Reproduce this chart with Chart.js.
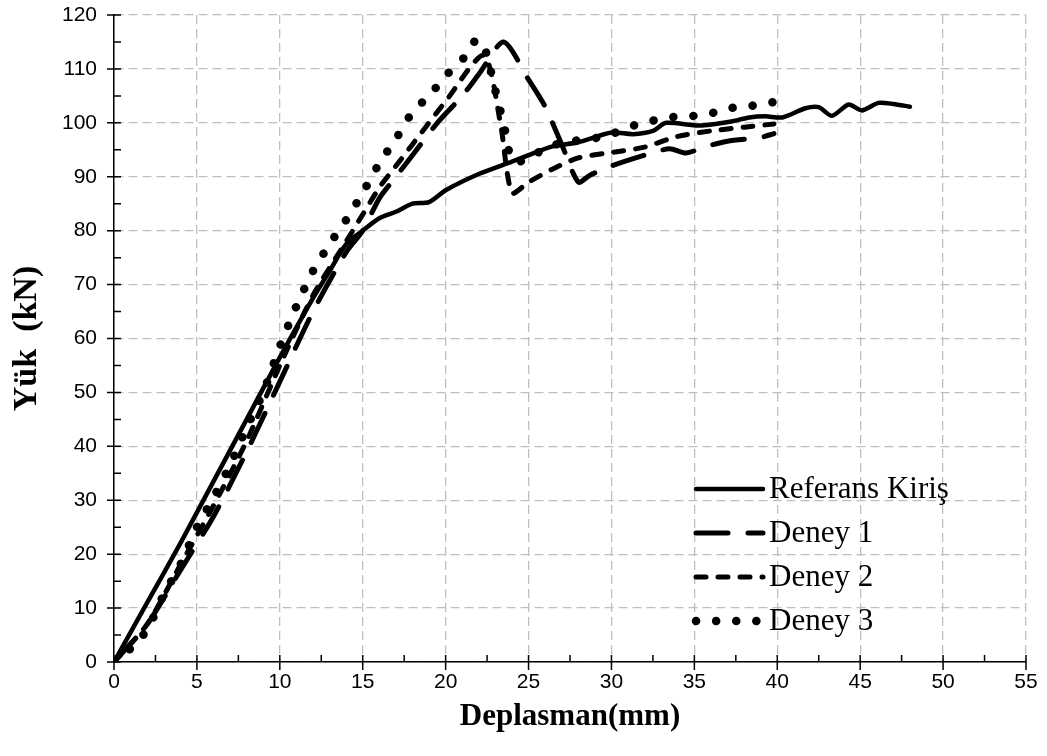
<!DOCTYPE html>
<html>
<head>
<meta charset="utf-8">
<script src="https://cdn.jsdelivr.net/npm/chart.js@4.4.1/dist/chart.umd.min.js"></script>
<style>
html,body{margin:0;padding:0;background:#fff;}
#wrap{width:1047px;height:756px;position:relative;}
</style>
</head>
<body>
<div id="wrap"><canvas id="c" width="1047" height="756"></canvas></div>
<script>
// ---- data ----
const xTickLabels = ['0','5','10','15','20','25','30','35','40','45','50','55'];
const yTickLabels = ['0','10','20','30','40','50','60','70','80','90','100','110','120'];
const seriesNames = ['Referans Kiriş', 'Deney 1', 'Deney 2', 'Deney 3'];

const refX = [0,2,4,6,8,10,12,13,14,15,16,17,18,19,20,22,24,25,26.4,28,30,31.3,32.5,33.3,35.3,37.3,38.3,39.3,40.3,41.7,42.5,43.3,44.3,45.1,46.1,47,48];
const refY = [0,11,22,33.5,45,56.5,67.5,72.5,77.5,80,82.3,83.5,85,85.3,87.5,90.5,92.8,94,95.6,96.4,98.2,97.9,98.5,100,99.5,100.3,101,101.2,101,102.7,102.9,101.3,103.4,102.3,103.7,103.5,103];

const d1X = [0,2,4,6,8,10,12,14,15,16,17,18,19.5,21,22,23.5,25,26,27,28,28.7,30,32,33.5,34.5,35.7,37,39,39.8];
const d1Y = [0,7,17,27,39,52,65,76,80,86,90,94,100,105,109,115,108,103,96,89,90.3,92,94,95.2,94.4,95.6,96.6,97.3,98];

const d2X = [0,2,4,6,8,10,12,14,15,16,17,18,20,22.3,23.3,24,25,26.5,28,30,32,34,36,38,39.8];
const d2Y = [0,7,18,29,41,55,68,78,83,88,92,96,104,112.5,100,87,89,91.5,93.5,94.5,95.5,97.5,98.5,99.2,99.8];

const d3X = [0,1,2,3,4,5,6,7,8,9,10,11,12,13,14,15,16,17,18,19,20,21.2,21.9,22.5,22.8,23.1,23.4,23.7,24,25,26,27.3,28.5,29.7,30.9,32.1,33.4,34.6,35.8,37.1,38.3,39.1,39.8];
const d3Y = [0,2.5,6,12.5,18,25,30.5,36.5,43.5,50,58.5,66,72.5,77.5,82,87,92.5,97,102,105,108.7,112.4,115.5,112.6,108.5,104.7,101,97,93,93.2,95.4,96.4,97,97.5,99.1,100.1,101,101.2,101.6,102.7,103,103.8,103.8];

const xTitle = 'Deplasman(mm)';
const yTitle = 'Yük  (kN)';

function pts(xs, ys){ return xs.map((x,i)=>({x:x, y:ys[i]})); }

const styles = [
  {borderWidth:4.5, borderDash:[], borderCapStyle:'round'},
  {borderWidth:5, borderDash:[32,20], borderCapStyle:'round'},
  {borderWidth:5, borderDash:[10,12], borderCapStyle:'round'},
  {borderWidth:8.5, borderDash:[0.1,20], borderCapStyle:'round'}
];
const allX = [refX,d1X,d2X,d3X], allY = [refY,d1Y,d2Y,d3Y];

const datasets = seriesNames.map((n,i)=>Object.assign({
  label:n, data:pts(allX[i],allY[i]), borderColor:'#000', backgroundColor:'#000',
  pointRadius:0, fill:false, tension:0.25, borderJoinStyle:'round'
}, styles[i]));

const X0=0, X1=55, Y0=0, Y1=120;

const tickPlugin = {
  id:'tickmarks',
  afterDraw(chart){
    const ctx=chart.ctx, xs=chart.scales.x, ys=chart.scales.y;
    const ax = xs.getPixelForValue(0), ay = ys.getPixelForValue(0);
    ctx.save();
    ctx.strokeStyle='#000'; ctx.lineWidth=1.5;
    ctx.beginPath();
    for(let v=X0; v<=X1; v+=2.5){
      const px=xs.getPixelForValue(v);
      if(Math.round(v/5)*5===v){ ctx.moveTo(px, ay-7); ctx.lineTo(px, ay+8); }
      else { ctx.moveTo(px, ay-7); ctx.lineTo(px, ay); }
    }
    for(let v=Y0; v<=Y1; v+=5){
      const py=ys.getPixelForValue(v);
      if(v%10===0){ ctx.moveTo(ax-7, py); ctx.lineTo(ax+7, py); }
      else { ctx.moveTo(ax, py); ctx.lineTo(ax+7, py); }
    }
    ctx.stroke();
    // legend
    const rows=[489,533,577,621];
    chart.data.datasets.forEach((ds,i)=>{
      ctx.save();
      ctx.lineWidth=ds.borderWidth; ctx.lineCap=ds.borderCapStyle;
      ctx.setLineDash(ds.borderDash||[]);
      ctx.beginPath(); ctx.moveTo(696, rows[i]); ctx.lineTo(763, rows[i]); ctx.stroke();
      ctx.restore();
      ctx.fillStyle='#000'; ctx.font='31px "Liberation Serif"'; ctx.textBaseline='middle'; ctx.textAlign='left';
      ctx.fillText(ds.label, 769, rows[i]+1);
    });
    ctx.restore();
  }
};

new Chart(document.getElementById('c'), {
  type:'line',
  data:{datasets},
  options:{
    responsive:false, animation:false, devicePixelRatio:1,
    layout:{padding:{top:15, right:21, left:0, bottom:0}},
    plugins:{legend:{display:false}, tooltip:{enabled:false}},
    scales:{
      x:{type:'linear', min:X0, max:X1,
        afterFit(s){ s.height=94; s.paddingLeft=0; s.paddingRight=0; },
        afterBuildTicks(s){ s.ticks = xTickLabels.map(t=>({value:+t})); },
        ticks:{stepSize:5, color:'#000', padding:8, font:{family:'"Liberation Sans"', size:21}, maxRotation:0,
          callback:(v)=>xTickLabels[xTickLabels.indexOf(String(v))]},
        grid:{color:'#bfbfbf', lineWidth:1.3, drawTicks:false},
        border:{display:true, color:'#000', width:1.5, dash:[9,5]},
        title:{display:true, text:xTitle, color:'#000', font:{family:'"Liberation Serif"', size:31, weight:'bold'}, padding:{top:0,bottom:20}}
      },
      y:{type:'linear', min:Y0, max:Y1,
        afterFit(s){ s.width=114; s.paddingTop=0; s.paddingBottom=0; },
        afterBuildTicks(s){ s.ticks = yTickLabels.map(t=>({value:+t})); },
        ticks:{stepSize:10, color:'#000', padding:17, font:{family:'"Liberation Sans"', size:21},
          callback:(v)=>yTickLabels[yTickLabels.indexOf(String(v))]},
        grid:{color:'#bfbfbf', lineWidth:1.3, drawTicks:false},
        border:{display:true, color:'#000', width:1.5, dash:[9,5]},
        title:{display:true, text:yTitle, color:'#000', font:{family:'"Liberation Serif"', size:34, weight:'bold'}, padding:{top:7,bottom:0}}
      }
    }
  },
  plugins:[tickPlugin]
});
</script>
</body>
</html>
